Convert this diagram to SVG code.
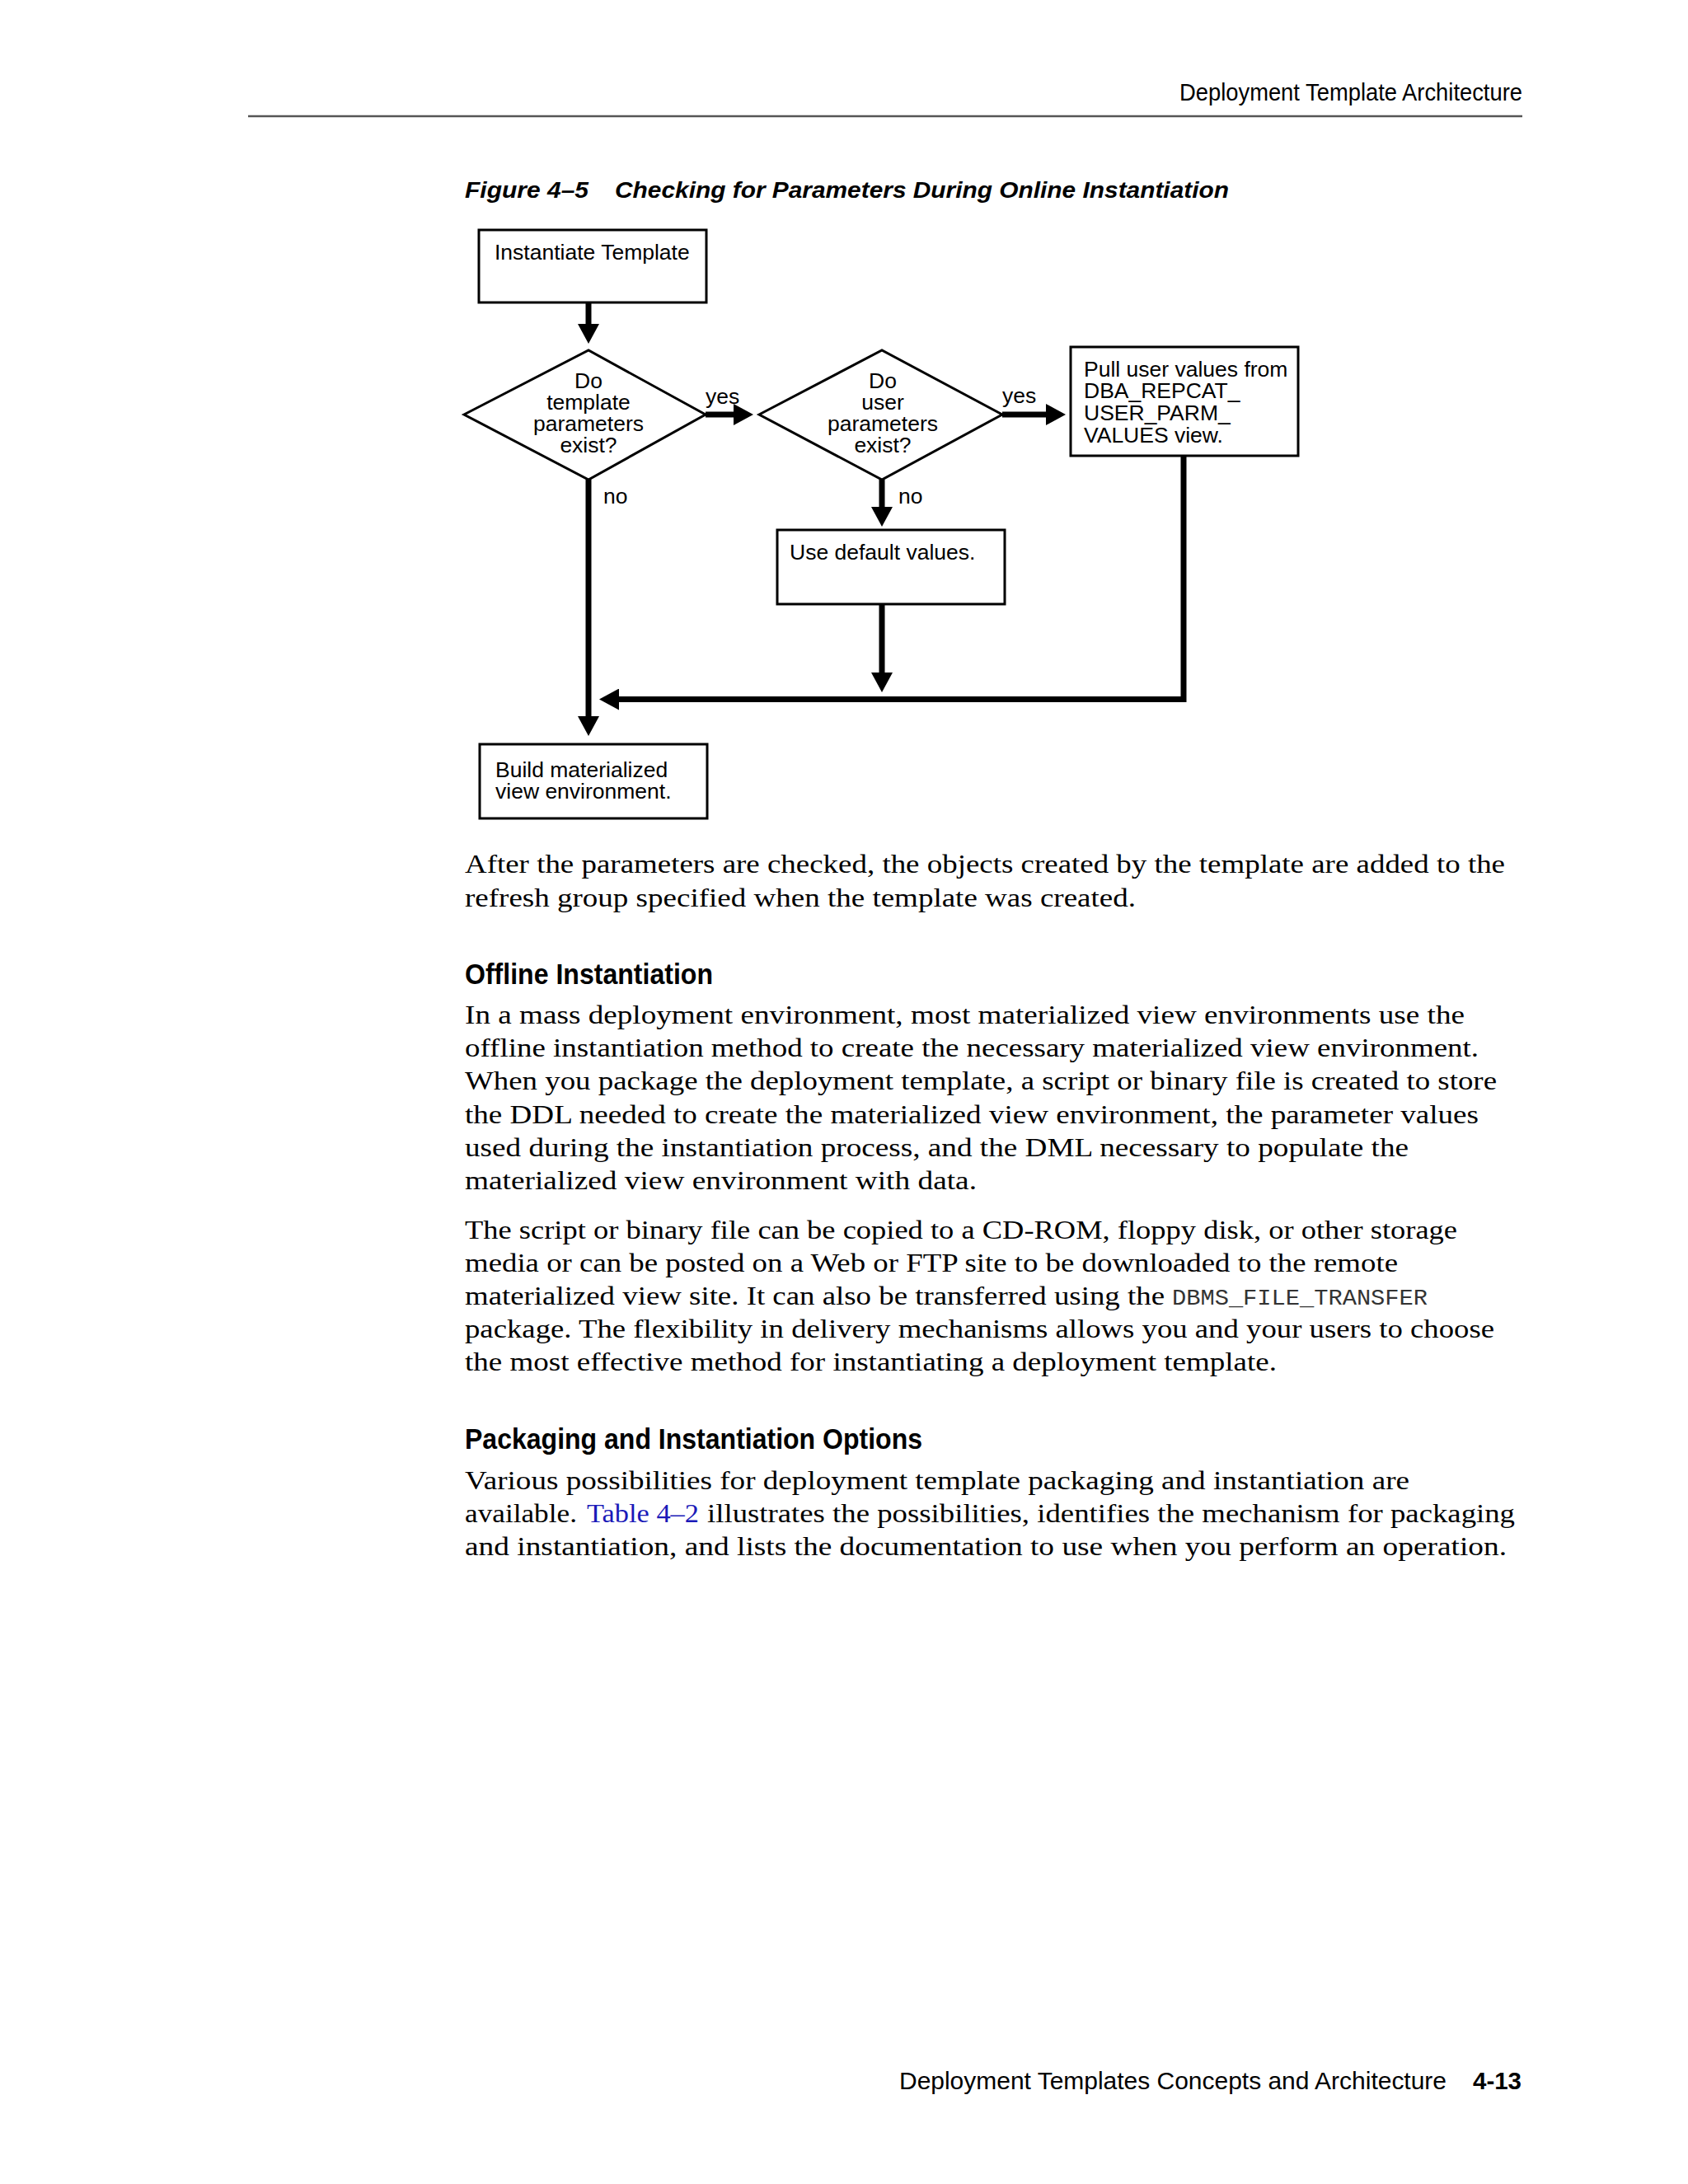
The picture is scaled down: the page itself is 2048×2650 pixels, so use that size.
<svg xmlns="http://www.w3.org/2000/svg" width="2048" height="2650" viewBox="0 0 2048 2650">
<style>
.bg{fill:#fff}
.box{fill:#fff;stroke:#000;stroke-width:3}
.dia{fill:#fff;stroke:#000;stroke-width:3;stroke-linejoin:miter}
.ft{font-family:"Liberation Sans",Arial,Helvetica,sans-serif;font-size:26.5px;fill:#000}
.ftc{font-family:"Liberation Sans",Arial,Helvetica,sans-serif;font-size:26.5px;fill:#000;text-anchor:middle}
.conn{fill:none;stroke:#000;stroke-width:7;stroke-linejoin:miter;stroke-miterlimit:10}
.hdr{font-family:"Liberation Sans",Arial,Helvetica,sans-serif;font-size:30px;fill:#000}
.cap{font-family:"Liberation Sans",Arial,Helvetica,sans-serif;font-size:28px;font-weight:bold;font-style:italic;fill:#000}
.h2{font-family:"Liberation Sans",Arial,Helvetica,sans-serif;font-size:35px;font-weight:bold;fill:#000}
.body{font-family:"Liberation Serif","Times New Roman",serif;font-size:31px;fill:#000}
.mono{font-family:"Liberation Mono","Courier New",monospace;font-size:28px;fill:#333}
.link{fill:#1a1ab8}
.foot{font-family:"Liberation Sans",Arial,Helvetica,sans-serif;font-size:30px;fill:#000}
</style>
<defs>
<marker id="ah" viewBox="0 0 24 26" refX="1" refY="13" markerWidth="24" markerHeight="26" markerUnits="userSpaceOnUse" orient="auto">
<path d="M0,0 L24,13 L0,26 z" fill="#000"/>
</marker>
</defs>
<rect class="bg" x="0" y="0" width="2048" height="2650"/>

<g id="page-header">
<text class="hdr" x="1431" y="122" textLength="416" lengthAdjust="spacingAndGlyphs">Deployment Template Architecture</text>
<line x1="301" y1="141" x2="1847" y2="141" stroke="#555" stroke-width="2.5"/>
</g>

<g id="caption">
<text class="cap" x="564" y="240" textLength="150" lengthAdjust="spacingAndGlyphs">Figure 4–5</text>
<text class="cap" x="746" y="240" textLength="745" lengthAdjust="spacingAndGlyphs">Checking for Parameters During Online Instantiation</text>
</g>

<g id="connectors">
<line class="conn" x1="714" y1="367" x2="714" y2="394" marker-end="url(#ah)"/>
<line class="conn" x1="856" y1="503" x2="891" y2="503" marker-end="url(#ah)"/>
<line class="conn" x1="1216" y1="503" x2="1270" y2="503" marker-end="url(#ah)"/>
<line class="conn" x1="714" y1="582" x2="714" y2="870" marker-end="url(#ah)"/>
<line class="conn" x1="1070" y1="582" x2="1070" y2="616" marker-end="url(#ah)"/>
<line class="conn" x1="1070" y1="733" x2="1070" y2="817" marker-end="url(#ah)"/>
<path class="conn" d="M1436,553 L1436,848.5 L750,848.5" marker-end="url(#ah)"/>
<text class="ft" x="856" y="490">yes</text>
<text class="ft" x="1216" y="489">yes</text>
<text class="ft" x="732" y="611">no</text>
<text class="ft" x="1090" y="611">no</text>
</g>

<g id="n-instantiate">
<rect class="box" x="581" y="279" width="276" height="88"/>
<text class="ft" x="600" y="315">Instantiate Template</text>
</g>

<g id="n-template-params">
<polygon class="dia" points="563,503 714,425 856,503 714,582"/>
<text class="ftc" x="714" y="471">Do</text>
<text class="ftc" x="714" y="497">template</text>
<text class="ftc" x="714" y="523">parameters</text>
<text class="ftc" x="714" y="549">exist?</text>
</g>

<g id="n-user-params">
<polygon class="dia" points="921,503 1070,425 1216,503 1070,582"/>
<text class="ftc" x="1071" y="471">Do</text>
<text class="ftc" x="1071" y="497">user</text>
<text class="ftc" x="1071" y="523">parameters</text>
<text class="ftc" x="1071" y="549">exist?</text>
</g>

<g id="n-pull">
<rect class="box" x="1299" y="421" width="276" height="132"/>
<text class="ft" x="1315" y="457">Pull user values from</text>
<text class="ft" x="1315" y="483">DBA_REPCAT_</text>
<text class="ft" x="1315" y="510">USER_PARM_</text>
<text class="ft" x="1315" y="537">VALUES view.</text>
</g>

<g id="n-default">
<rect class="box" x="943" y="643" width="276" height="90"/>
<text class="ft" x="958" y="679">Use default values.</text>
</g>

<g id="n-build">
<rect class="box" x="582" y="903" width="276" height="90"/>
<text class="ft" x="601" y="943">Build materialized</text>
<text class="ft" x="601" y="969">view environment.</text>
</g>

<g id="body-text">
<text class="body" x="564" y="1059" textLength="1262" lengthAdjust="spacingAndGlyphs">After the parameters are checked, the objects created by the template are added to the</text>
<text class="body" x="564" y="1100" textLength="814" lengthAdjust="spacingAndGlyphs">refresh group specified when the template was created.</text>
<text class="h2" x="564" y="1194" textLength="301" lengthAdjust="spacingAndGlyphs">Offline Instantiation</text>
<text class="body" x="564" y="1242" textLength="1213" lengthAdjust="spacingAndGlyphs">In a mass deployment environment, most materialized view environments use the</text>
<text class="body" x="564" y="1282" textLength="1230" lengthAdjust="spacingAndGlyphs">offline instantiation method to create the necessary materialized view environment.</text>
<text class="body" x="564" y="1322" textLength="1252" lengthAdjust="spacingAndGlyphs">When you package the deployment template, a script or binary file is created to store</text>
<text class="body" x="564" y="1363" textLength="1230" lengthAdjust="spacingAndGlyphs">the DDL needed to create the materialized view environment, the parameter values</text>
<text class="body" x="564" y="1403" textLength="1145" lengthAdjust="spacingAndGlyphs">used during the instantiation process, and the DML necessary to populate the</text>
<text class="body" x="564" y="1443" textLength="621" lengthAdjust="spacingAndGlyphs">materialized view environment with data.</text>
<text class="body" x="564" y="1503" textLength="1204" lengthAdjust="spacingAndGlyphs">The script or binary file can be copied to a CD-ROM, floppy disk, or other storage</text>
<text class="body" x="564" y="1543" textLength="1132" lengthAdjust="spacingAndGlyphs">media or can be posted on a Web or FTP site to be downloaded to the remote</text>
<text class="body" x="564" y="1583" textLength="849" lengthAdjust="spacingAndGlyphs">materialized view site. It can also be transferred using the</text>
<text class="mono" x="1422" y="1583" textLength="310" lengthAdjust="spacingAndGlyphs">DBMS_FILE_TRANSFER</text>
<text class="body" x="564" y="1623" textLength="1249" lengthAdjust="spacingAndGlyphs">package. The flexibility in delivery mechanisms allows you and your users to choose</text>
<text class="body" x="564" y="1663" textLength="985" lengthAdjust="spacingAndGlyphs">the most effective method for instantiating a deployment template.</text>
<text class="h2" x="564" y="1758" textLength="555" lengthAdjust="spacingAndGlyphs">Packaging and Instantiation Options</text>
<text class="body" x="564" y="1807" textLength="1146" lengthAdjust="spacingAndGlyphs">Various possibilities for deployment template packaging and instantiation are</text>
<text class="body" x="564" y="1847" textLength="136" lengthAdjust="spacingAndGlyphs">available.</text>
<text class="body link" x="712" y="1847" textLength="136" lengthAdjust="spacingAndGlyphs">Table 4–2</text>
<text class="body" x="858" y="1847" textLength="980" lengthAdjust="spacingAndGlyphs">illustrates the possibilities, identifies the mechanism for packaging</text>
<text class="body" x="564" y="1887" textLength="1264" lengthAdjust="spacingAndGlyphs">and instantiation, and lists the documentation to use when you perform an operation.</text>
</g>

<g id="page-footer">
<text class="foot" x="1091" y="2535" textLength="664" lengthAdjust="spacingAndGlyphs">Deployment Templates Concepts and Architecture</text>
<text class="foot" x="1787" y="2535" font-weight="bold" textLength="59" lengthAdjust="spacingAndGlyphs">4-13</text>
</g>
</svg>
